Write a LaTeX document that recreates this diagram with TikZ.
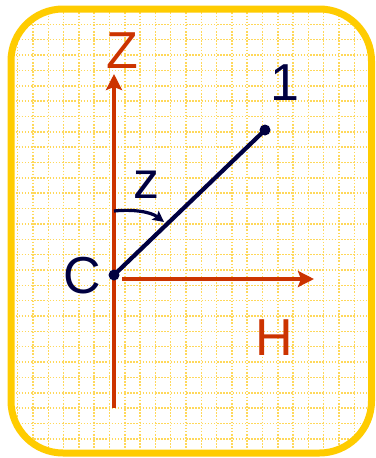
\documentclass[tikz,border=0pt]{standalone}
\usepackage{fontspec}
\setmainfont{Liberation Sans}
\usetikzlibrary{arrows.meta}
\definecolor{axisred}{HTML}{CC3300}
\definecolor{navy}{HTML}{000040}
\definecolor{framey}{HTML}{FFCC00}
\definecolor{gridy}{HTML}{FFD85A}
\begin{document}
\begin{tikzpicture}[x=1pt,y=-1pt,
  gridline/.style={gridy,line width=1.5pt,dash pattern=on 1.5pt off 1.6pt},
  axis/.style={axisred,line width=4.8pt,-{Stealth[length=16pt,width=16pt,inset=3pt]}},
  vec/.style={navy,line width=4.2pt},
  dotpt/.style={circle,fill=navy,inner sep=0pt,minimum size=11pt},
  biglabel/.style={inner sep=0pt,font=\fontsize{52}{52}\selectfont},
  angarrow/.style={navy,line width=3.2pt,-{Stealth[length=11pt,width=11pt,inset=2pt]}}]
\useasboundingbox (0,0) rectangle (375,458);
\fill[white] (0,0) rectangle (375,458);
\begin{scope}
  \clip[rounded corners=52pt] (11,9) rectangle (371.5,453);
  \foreach \i in {0,...,24} \draw[gridline] ({2.4+15.3*\i},0) -- ({2.4+15.3*\i},458);
  \foreach \j in {0,...,30} \draw[gridline] (0,{9+15.35*\j}) -- (375,{9+15.35*\j});
\end{scope}
\draw[framey,line width=7pt,rounded corners=52pt] (11,9) rectangle (371.5,453);
% axes
\coordinate (zb) at (114,408);
\coordinate (zt) at (114,74);
\coordinate (hl) at (122,279);
\coordinate (hr) at (314,279);
\draw[axis] (zb) -- (zt);
\draw[axis] (hl) -- (hr);
\node[biglabel,text=axisred] (Zl) at (122,51) {Z};
\node[biglabel,text=axisred] (Hl) at (274,338) {H};
% vector
\node[dotpt] (C) at (114,275) {};
\node[dotpt] (P1) at (265,130) {};
\draw[vec] (C.center) -- (P1.center);
\node[biglabel,text=navy] (Cl) at (82,276) {C};
\node[biglabel,text=navy] (One) at (285,83) {1};
\node[biglabel,text=navy] (zl) at (146,185) {z};
% angle arrow
\coordinate (a0) at (114,211);
\coordinate (a1) at (164,222);
\draw[angarrow] (a0) .. controls (134,209) and (151,212) .. (a1);
\end{tikzpicture}
\end{document}
